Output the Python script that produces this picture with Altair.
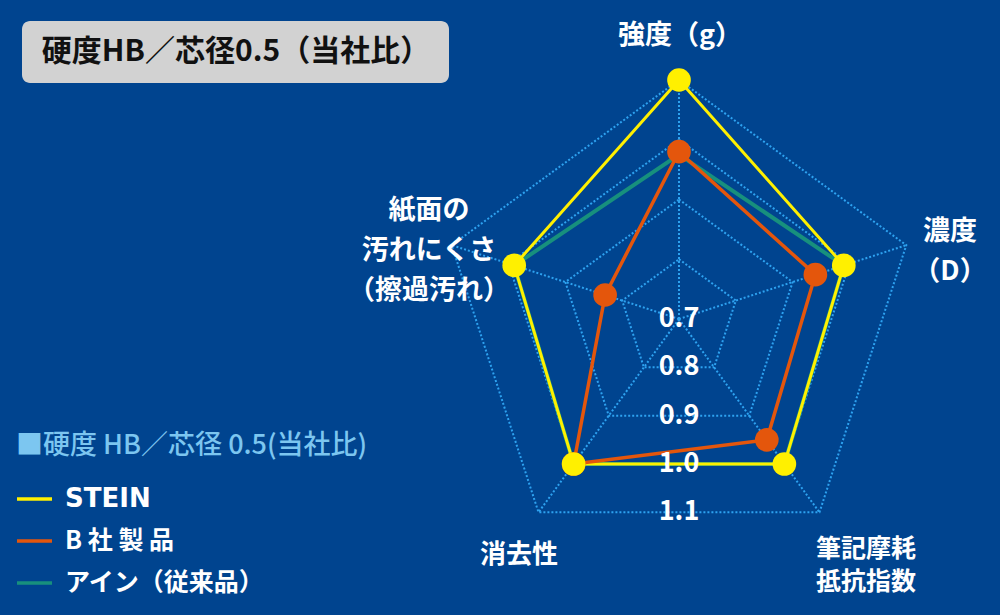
import altair as alt
import pandas as pd

# ---------------- data ----------------
axis_lines = [["強度（g）"], ["濃度", "（D）"], ["筆記摩耗", "抵抗指数"], ["消去性"],
              ["紙面の", "汚れにくさ", "（擦過汚れ）"]]
series_names = ["STEIN", "B社製品", "アイン（従来品）"]
legend_labels = ["STEIN", "B 社 製 品", "アイン（従来品）"]
stein_vals = [1.10, 0.99, 1.00, 1.00, 0.99]
bsha_vals = [0.98, 0.94, 0.95, 1.00, 0.83]
ain_vals = [0.975, 0.99, 1.00, 1.00, 0.99]
tick_vals = [0.7, 0.8, 0.9, 1.0, 1.1]
tick_labels = ["0.7", "0.8", "0.9", "1.0", "1.1"]
title_text = "硬度HB／芯径0.5（当社比）"
legend_title = "■硬度 HB／芯径 0.5(当社比)"

# ---------------- layout / style ----------------
W, H = 1000, 615
CX, CY = 679, 319
V0, V1 = tick_vals[0], tick_vals[-1]
RMAX = 239
K = RMAX / (V1 - V0)
N = len(axis_lines)

BG = "#00448f"
GRID = "#2da2f0"
COLORS = ["#fff000", "#e4560c", "#17907d"]
WIDTHS = [3, 3.5, 4]
FONT = "Noto Sans CJK JP"

X = alt.X("px:Q", scale=None, axis=None)
Y = alt.Y("py:Q", scale=None, axis=None)


def polar(ch):
    return ch.transform_calculate(
        ang=f"PI/2 - 2*PI*datum.k/{N}",
        rr=f"{K}*(datum.v - {V0})",
    ).transform_calculate(
        px=f"{CX} + datum.rr*cos(datum.ang)",
        py=f"{CY} - datum.rr*sin(datum.ang)",
    )


# grid rings
ring_rows = [{"ring": t, "k": k, "v": t} for t in tick_vals[1:] for k in range(N + 1)]
rings = polar(alt.Chart(pd.DataFrame(ring_rows))).mark_line(
    color=GRID, strokeWidth=2, strokeDash=[2, 2]
).encode(x=X, y=Y, detail="ring:N", order="k:Q")

# spokes
spoke_rows = [{"k": k, "v": v} for k in range(N) for v in (V0, V1)]
spokes = polar(alt.Chart(pd.DataFrame(spoke_rows))).mark_line(
    color=GRID, strokeWidth=2, strokeDash=[2, 2]
).encode(x=X, y=Y, detail="k:N", order="v:Q")

all_vals = [stein_vals, bsha_vals, ain_vals]


def series_df(vals):
    return pd.DataFrame([{"k": k, "v": vals[k % N]} for k in range(N + 1)])


def line_layer(i):
    return polar(alt.Chart(series_df(all_vals[i]))).mark_line(
        color=COLORS[i], strokeWidth=WIDTHS[i], strokeJoin="miter"
    ).encode(x=X, y=Y, order="k:Q")


def point_layer(i):
    df = pd.DataFrame([{"k": k, "v": all_vals[i][k]} for k in range(N)])
    return polar(alt.Chart(df)).mark_circle(
        color=COLORS[i], opacity=1, size=560
    ).encode(x=X, y=Y)


# tick labels along the bottom edges of the rings
tick_df = pd.DataFrame({"v": tick_vals, "lab": tick_labels})
ticks = alt.Chart(tick_df).transform_calculate(
    px=f"{CX}", py=f"{CY} + {K}*(datum.v - {V0})*cos(PI/{N})"
).mark_text(font=FONT, fontSize=27, fontWeight="bold", color="white",
            align="center", baseline="middle").encode(x=X, y=Y, text="lab:N")


def text_layer(txt, x, y, size, color="white", weight="bold", align="center", font=FONT):
    return alt.Chart(alt.Data(values=[{"t": txt}])).mark_text(
        font=font, fontSize=size, fontWeight=weight, color=color,
        align=align, baseline="middle"
    ).encode(x=alt.value(x), y=alt.value(y), text="t:N")


# axis label anchors (x, first-line y, line step, size)
axis_pos = [(680, 36, 0, 27), (950, 232, 40, 27), (866, 549, 33, 25),
            (519, 555, 0, 26), (429, 211, 40, 27)]
axis_text = []
for lines, (ax, ay, step, sz) in zip(axis_lines, axis_pos):
    for j, ln in enumerate(lines):
        axis_text.append(text_layer(ln, ax, ay + j * step, sz))

# title box
title_box = alt.Chart(alt.Data(values=[{}])).mark_rect(
    color="#d2d2d2", cornerRadius=8
).encode(x=alt.value(22), x2=alt.value(449), y=alt.value(21), y2=alt.value(83))
title = text_layer(title_text, 236, 52, 30, color="#111111")

# legend
leg = [text_layer(legend_title, 16, 446, 27, color="#7cc6f0", weight=500, align="left")]
for i, name in enumerate(legend_labels):
    yy = 499 + 42 * i
    leg.append(alt.Chart(alt.Data(values=[{}])).mark_rule(
        color=COLORS[i], strokeWidth=3.5
    ).encode(x=alt.value(17), x2=alt.value(52), y=alt.value(yy)))
    fnt = "DejaVu Sans" if i == 0 else FONT
    sz = 26 if i == 0 else 25
    leg.append(text_layer(name, 65, yy, sz, align="left", font=fnt))

chart = alt.layer(
    rings, spokes,
    line_layer(2), line_layer(0), line_layer(1),
    point_layer(1), point_layer(0),
    ticks, *axis_text, title_box, title, *leg
).properties(
    width=W, height=H, padding=0, autosize="none"
).configure(background=BG).configure_view(stroke=None, fill=BG)

chart.save("out.html", embed_options={"renderer": "svg", "actions": False})
